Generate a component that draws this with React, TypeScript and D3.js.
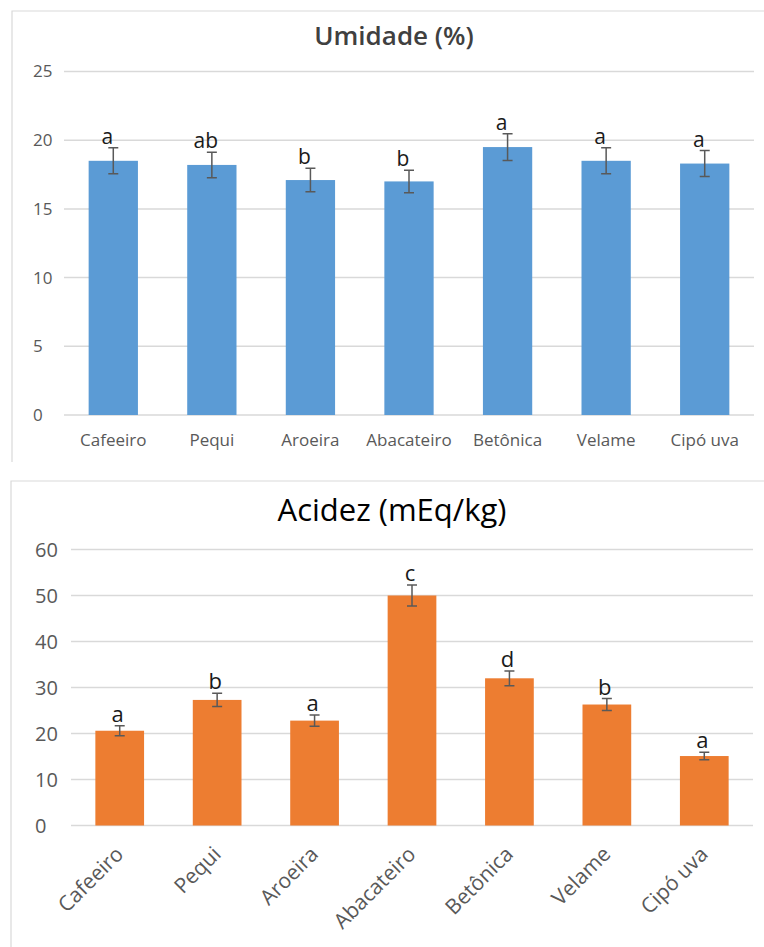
import React, { useEffect, useRef } from "react";
import * as d3 from "d3";

// categorias (as mesmas nos dois gráficos)
const especies = ["Cafeeiro", "Pequi", "Aroeira", "Abacateiro", "Betônica", "Velame", "Cipó uva"];

// Umidade (%)
const umidadeMedia = [18.5, 18.2, 17.1, 17.0, 19.5, 18.5, 18.3];
const umidadeErro = [0.95, 0.93, 0.85, 0.82, 0.97, 0.95, 0.95];
const umidadeLetras = ["a", "ab", "b", "b", "a", "a", "a"];
const umidadeTicks = [0, 5, 10, 15, 20, 25];

// Acidez (mEq/kg)
const acidezMedia = [20.6, 27.3, 22.8, 50.0, 32.0, 26.3, 15.1];
const acidezErro = [1.1, 1.45, 1.2, 2.3, 1.6, 1.3, 0.8];
const acidezLetras = ["a", "b", "a", "c", "d", "b", "a"];
const acidezTicks = [0, 10, 20, 30, 40, 50, 60];

const FONT = "'Open Sans', 'Noto Sans', sans-serif";

type Cfg = {
  titulo: string;
  media: number[];
  erro: number[];
  letras: string[];
  ticks: number[];
  cor: string;
  frame: { x: number; y: number; h: number };
  plot: { left: number; right: number; top: number; bottom: number };
  titleY: number;
  titleX: number;
  titleSize: number;
  titleWeight: number;
  titleColor: string;
  tickX: number;
  tickSize: number;
  catSize: number;
  catRotate: boolean;
  letraSize: number;
  letraDx: number;
};

function desenha(svg: d3.Selection<SVGSVGElement, unknown, null, undefined>, c: Cfg) {
  const g = svg.append("g");

  // moldura (só topo e esquerda aparecem no recorte)
  g.append("path")
    .attr("d", `M${c.frame.x},${c.frame.y + c.frame.h}V${c.frame.y}H800`)
    .attr("fill", "none")
    .attr("stroke", "#d9d9d9")
    .attr("stroke-width", 1.2);

  const x = d3
    .scaleBand()
    .domain(especies)
    .range([c.plot.left, c.plot.right])
    .paddingInner(0.5)
    .paddingOuter(0.25);

  const y = d3
    .scaleLinear()
    .domain([0, c.ticks[c.ticks.length - 1]])
    .range([c.plot.bottom, c.plot.top]);

  // título
  g.append("text")
    .attr("x", c.titleX)
    .attr("y", c.titleY)
    .attr("text-anchor", "middle")
    .attr("font-family", FONT)
    .attr("font-size", c.titleSize)
    .attr("font-weight", c.titleWeight)
    .attr("fill", c.titleColor)
    .text(c.titulo);

  // linhas de grade + rótulos do eixo Y
  g.append("g")
    .selectAll("line")
    .data(c.ticks)
    .enter()
    .append("line")
    .attr("x1", c.plot.left)
    .attr("x2", c.plot.right)
    .attr("y1", (d) => y(d))
    .attr("y2", (d) => y(d))
    .attr("stroke", "#d9d9d9")
    .attr("stroke-width", 1.5);

  g.append("g")
    .selectAll("text")
    .data(c.ticks)
    .enter()
    .append("text")
    .attr("x", c.tickX)
    .attr("y", (d) => y(d))
    .attr("dy", "0.35em")
    .attr("font-family", FONT)
    .attr("font-size", c.tickSize)
    .attr("fill", "#595959")
    .text((d) => d);

  const dados = especies.map((nome, i) => ({
    nome,
    v: c.media[i],
    e: c.erro[i],
    l: c.letras[i],
  }));

  // barras
  g.append("g")
    .selectAll("rect")
    .data(dados)
    .enter()
    .append("rect")
    .attr("x", (d) => x(d.nome)!)
    .attr("width", x.bandwidth())
    .attr("y", (d) => y(d.v))
    .attr("height", (d) => y(0) - y(d.v))
    .attr("fill", c.cor);

  // barras de erro
  const eb = g.append("g").attr("stroke", "#595959").attr("stroke-width", 1.5).attr("fill", "none");
  dados.forEach((d) => {
    const cx = x(d.nome)! + x.bandwidth() / 2;
    const y1 = y(d.v + d.e);
    const y2 = y(d.v - d.e);
    eb.append("path").attr("d", `M${cx},${y1}V${y2}M${cx - 5},${y1}H${cx + 5}M${cx - 5},${y2}H${cx + 5}`);
  });

  // letras (teste de médias)
  g.append("g")
    .selectAll("text")
    .data(dados)
    .enter()
    .append("text")
    .attr("x", (d) => x(d.nome)! + x.bandwidth() / 2 + c.letraDx)
    .attr("y", (d) => y(d.v + d.e) - 4)
    .attr("text-anchor", "middle")
    .attr("font-family", FONT)
    .attr("font-size", c.letraSize)
    .attr("fill", "#1a1a1a")
    .text((d) => d.l);

  // rótulos das categorias
  const cats = g.append("g")
    .selectAll("text")
    .data(especies)
    .enter()
    .append("text")
    .attr("font-family", FONT)
    .attr("font-size", c.catSize)
    .attr("fill", "#595959")
    .text((d) => d);

  if (c.catRotate) {
    cats
      .attr("text-anchor", "end")
      .attr("transform", (d) => `translate(${x(d)! + x.bandwidth() / 2 + 5},${c.plot.bottom + 30}) rotate(-45)`);
  } else {
    cats
      .attr("text-anchor", "middle")
      .attr("x", (d) => x(d)! + x.bandwidth() / 2)
      .attr("y", c.plot.bottom + 31);
  }
}

const App = () => {
  const svgRef = useRef<SVGSVGElement>(null);

  useEffect(() => {
    const svg = d3.select(svgRef.current!);
    svg.selectAll("*").remove();

    desenha(svg, {
      titulo: "Umidade (%)",
      media: umidadeMedia,
      erro: umidadeErro,
      letras: umidadeLetras,
      ticks: umidadeTicks,
      cor: "#5b9bd5",
      frame: { x: 12, y: 11, h: 451 },
      plot: { left: 64, right: 754, top: 71.5, bottom: 415 },
      titleX: 394,
      titleY: 45,
      titleSize: 26,
      titleWeight: 600,
      titleColor: "#404040",
      tickX: 33,
      tickSize: 17,
      catSize: 17,
      catRotate: false,
      letraSize: 21,
      letraDx: -6,
    });

    desenha(svg, {
      titulo: "Acidez (mEq/kg)",
      media: acidezMedia,
      erro: acidezErro,
      letras: acidezLetras,
      ticks: acidezTicks,
      cor: "#ed7d31",
      frame: { x: 11, y: 481, h: 470 },
      plot: { left: 71, right: 753, top: 549.5, bottom: 825.5 },
      titleX: 392,
      titleY: 521,
      titleSize: 31,
      titleWeight: 400,
      titleColor: "#000000",
      tickX: 35,
      tickSize: 20,
      catSize: 21,
      catRotate: true,
      letraSize: 22,
      letraDx: -2,
    });
  }, []);

  return (
    <div style={{ position: "absolute", left: 0, top: 0 }}>
      <svg ref={svgRef} width={764} height={947} style={{ display: "block", background: "#fff" }}></svg>
    </div>
  );
};

export default App;
